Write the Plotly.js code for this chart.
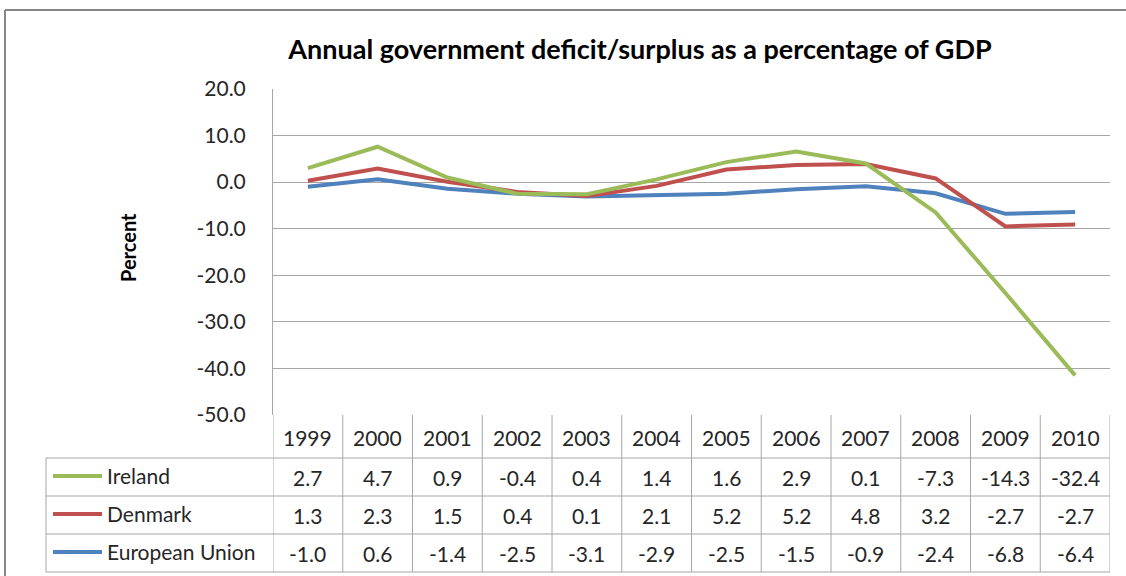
<!DOCTYPE html>
<html>
<head>
<meta charset="utf-8">
<script src="https://cdn.plot.ly/plotly-3.0.1.min.js"></script>
<style>html,body{margin:0;padding:0;background:#fff;}#chart{width:1126px;height:576px;}</style>
</head>
<body>
<div id="chart"></div>
<script>
const years = ['1999','2000','2001','2002','2003','2004','2005','2006','2007','2008','2009','2010'];
const ireland = [2.7, 4.7, 0.9, -0.4, 0.4, 1.4, 1.6, 2.9, 0.1, -7.3, -14.3, -32.4];
const denmark = [1.3, 2.3, 1.5, 0.4, 0.1, 2.1, 5.2, 5.2, 4.8, 3.2, -2.7, -2.7];
const eu = [-1.0, 0.6, -1.4, -2.5, -3.1, -2.9, -2.5, -1.5, -0.9, -2.4, -6.8, -6.4];
const seriesNames = ['Ireland', 'Denmark', 'European Union'];
const seriesColors = ['#9BBB59', '#C0504D', '#4F81BD'];
const yTicks = [20, 10, 0, -10, -20, -30, -40, -50];
const tableRows = [ireland, denmark, eu];

// layout geometry (pixels)
const W = 1126, H = 576;
const mL = 273, mR = 16, mT = 89, mB = 161;
const pw = W - mL - mR, ph = H - mT - mB;
const px = p => (p - mL) / pw;
const py = p => (H - mB - p) / ph;

const font = 'Lato, "Open Sans", sans-serif';
const txt = '#262626';
const grid = '#a6a6a6';
const fs = 21;

// stacked line traces (EU base, then Denmark, then Ireland)
const order = [2, 1, 0];
const traces = order.map(k => ({
  x: years, y: tableRows[k], name: seriesNames[k],
  type: 'scatter', mode: 'lines', stackgroup: 'one', fill: 'none',
  line: {color: seriesColors[k], width: 4},
  hoverinfo: 'skip'
}));

const shapes = [];
const line = (x0, y0, x1, y1, xref, color, width) => shapes.push({
  type: 'line', xref: xref, yref: 'paper', x0: x0, x1: x1, y0: y0, y1: y1,
  line: {color: color || grid, width: width || 1}, layer: 'above'
});

// table grid: horizontal lines
[458, 496, 534, 572].forEach(p => line(px(46), py(p), 1, py(p), 'paper'));
// vertical lines
line(px(46), py(458), px(46), py(572), 'paper');
for (let k = 0; k <= years.length; k++) {
  line(k - 0.5, py(415), k - 0.5, py(572), 'x');
}
// outer chart border
line(px(5), py(10), px(5), py(H + 5), 'paper', '#868686', 2);
line(px(5), py(10), px(W + 5), py(10), 'paper', '#868686', 2);

const annotations = [];
// year header
years.forEach((y, i) => annotations.push({
  x: i, xref: 'x', y: py(437), yref: 'paper', text: y, showarrow: false,
  font: {family: font, size: fs, color: txt}, xanchor: 'center', yanchor: 'middle'
}));
const rowCenters = [477, 515, 553];
tableRows.forEach((vals, r) => {
  // legend key
  shapes.push({type: 'line', xref: 'paper', yref: 'paper', x0: px(53), x1: px(102),
    y0: py(rowCenters[r] - 1), y1: py(rowCenters[r] - 1), line: {color: seriesColors[r], width: 4}, layer: 'above'});
  annotations.push({x: px(105), xref: 'paper', y: py(rowCenters[r] - 2), yref: 'paper', text: seriesNames[r],
    showarrow: false, xanchor: 'left', yanchor: 'middle', font: {family: font, size: fs, color: txt}});
  vals.forEach((v, i) => annotations.push({
    x: i, xref: 'x', y: py(rowCenters[r]), yref: 'paper', text: v.toFixed(1), showarrow: false,
    font: {family: font, size: fs, color: txt}, xanchor: 'center', yanchor: 'middle'
  }));
});
// y-axis title
annotations.push({x: px(128), xref: 'paper', y: py(248), yref: 'paper', text: '<b>Percent</b>', textangle: -90,
  showarrow: false, xanchor: 'center', yanchor: 'middle', font: {family: font, size: 20, color: '#000'}});

const layout = {
  width: W, height: H,
  margin: {l: mL, r: mR, t: mT, b: mB, pad: 0},
  paper_bgcolor: '#fff', plot_bgcolor: '#fff',
  showlegend: false,
  title: {text: '<b>Annual government deficit/surplus as a percentage of GDP</b>', x: 640 / W, xanchor: 'center',
    y: 1 - 50 / H, yanchor: 'middle', font: {family: font, size: 27, color: '#000'}},
  xaxis: {type: 'category', range: [-0.5, 11.5], showticklabels: false, showgrid: false, zeroline: false,
    showline: false, ticks: '', fixedrange: true},
  yaxis: {range: [-50, 20], tickmode: 'array', tickvals: yTicks, ticktext: yTicks.map(v => v.toFixed(1)),
    showgrid: true, gridcolor: grid, gridwidth: 1,
    zeroline: false, showline: true, linecolor: grid, linewidth: 1, ticks: 'outside', ticklen: 22,
    tickcolor: 'rgba(0,0,0,0)', tickfont: {family: font, size: fs, color: txt}, fixedrange: true},
  shapes: shapes,
  annotations: annotations
};

Plotly.newPlot('chart', traces, layout, {displayModeBar: false, staticPlot: true});
</script>
</body>
</html>
